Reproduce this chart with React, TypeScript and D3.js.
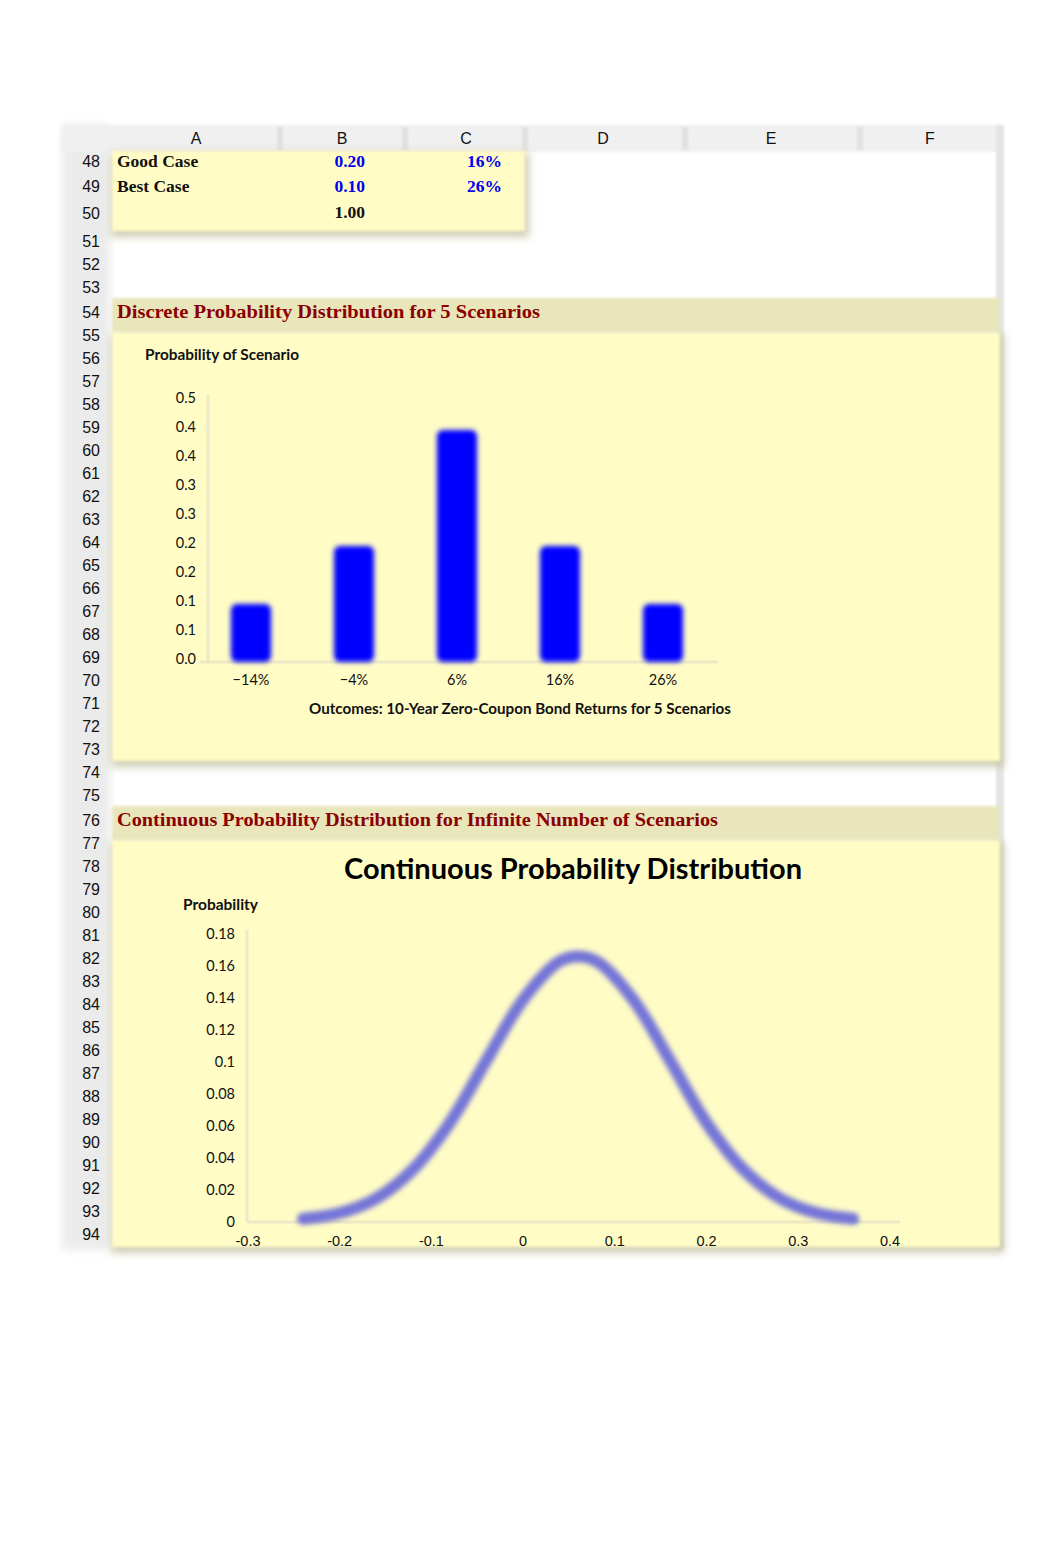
import * as d3 from 'd3'

// spreadsheet context
const columnLetters = ['A', 'B', 'C', 'D', 'E', 'F']
const columnCenters = [196, 342, 466, 603, 771, 930]
const rowNumbers = d3.range(48, 95)
const tallRows: Record<number, number> = { 49: 25, 50: 27, 51: 28, 54: 25, 76: 25 }

const caseLabels = ['Good Case', 'Best Case']
const caseProbs = ['0.20', '0.10']
const caseReturns = ['16%', '26%']
const probTotal = '1.00'

// discrete chart
const scenarios = ['\u221214%', '\u22124%', '6%', '16%', '26%']
const scenarioProbs = [0.1, 0.2, 0.4, 0.2, 0.1]
const discreteTicks = [0, 0.05, 0.1, 0.15, 0.2, 0.25, 0.3, 0.35, 0.4, 0.45]
const discreteTickLabels = ['0.0', '0.1', '0.1', '0.2', '0.2', '0.3', '0.3', '0.4', '0.4', '0.5']

// continuous chart
const curveX = [-0.24, -0.2, -0.16, -0.12, -0.08, -0.04, 0, 0.04, 0.06, 0.08, 0.12, 0.16, 0.2, 0.24, 0.28, 0.32, 0.36]
const curveY = [0.002, 0.0056, 0.0148, 0.033, 0.062, 0.101, 0.139, 0.163, 0.166, 0.163, 0.139, 0.101, 0.062, 0.033, 0.0148, 0.0056, 0.002]
const contYTicks = [0, 0.02, 0.04, 0.06, 0.08, 0.1, 0.12, 0.14, 0.16, 0.18]
const contXTicks = [-0.3, -0.2, -0.1, 0, 0.1, 0.2, 0.3, 0.4]

const YELLOW = '#fffcc6'
const BAND = '#e8e6ba'
const DARK_RED = '#8b0000'
const SERIF = '"Liberation Serif", serif'
const SANS = 'Lato, "Open Sans", sans-serif'
const ARIAL = '"Liberation Sans", Arial, sans-serif'

// excel style: plain hyphen, no trailing zeros
const fmt = (v: number) => String(+v.toFixed(2))

function rowCenter(n: number) {
  let y = 161
  for (let r = 49; r <= n; r++) y += tallRows[r] ?? 23
  return y
}

function Panel({ x, y, w, h, fill }: { x: number; y: number; w: number; h: number; fill: string }) {
  return (
    <g>
      <rect x={x - 1} y={y + 2} width={w + 5} height={h + 4} fill="#bdbb98" opacity={0.75} filter="url(#shadow)" />
      <rect x={x} y={y} width={w} height={h} fill={fill} filter="url(#soft)" />
    </g>
  )
}

export default function App() {
  const W = 1062
  const H = 1556

  // discrete scales
  const xBand = d3.scaleBand<string>().domain(scenarios).range([199.5, 714.5]).paddingInner(0.61).paddingOuter(0.305)
  const yDisc = d3.scaleLinear().domain([0, 0.45]).range([662, 401])

  // continuous scales
  const xCont = d3.scaleLinear().domain([-0.3, 0.4]).range([248, 890])
  const yCont = d3.scaleLinear().domain([0, 0.18]).range([1222, 934])
  const line = d3.line<number>()
    .x((_, i) => xCont(curveX[i]))
    .y(d => yCont(d))
    .curve(d3.curveCatmullRom.alpha(0.5))

  return (
    <svg width={W} height={H} style={{ position: 'absolute', left: 0, top: 0, background: '#fff' }}>
      <defs>
        <filter id="shadow" x="-10%" y="-10%" width="120%" height="120%">
          <feGaussianBlur stdDeviation="4" />
        </filter>
        <filter id="soft" x="-5%" y="-5%" width="110%" height="110%">
          <feGaussianBlur stdDeviation="1.5" />
        </filter>
        <filter id="markBlur" x="-20%" y="-20%" width="140%" height="140%">
          <feGaussianBlur stdDeviation="2.4" />
        </filter>
      </defs>

      {/* gutter and header row */}
      <rect x={62} y={125} width={48} height={1125} fill="#ebebeb" filter="url(#shadow)" />
      <rect x={62} y={125} width={940} height={27} fill="#f0f0f0" filter="url(#soft)" />
      {[280, 405, 525, 685, 860].map(x => (
        <rect key={x} x={x - 3} y={127} width={6} height={23} fill="#e0e0e0" filter="url(#soft)" />
      ))}
      <rect x={996} y={125} width={8} height={1125} fill="#e4e4e4" filter="url(#soft)" />

      {columnLetters.map((c, i) => (
        <text key={c} x={columnCenters[i]} y={138} textAnchor="middle" dominantBaseline="central"
          fontFamily={ARIAL} fontSize={16} fill="#111">{c}</text>
      ))}
      {rowNumbers.map(n => (
        <text key={n} x={100} y={rowCenter(n)} textAnchor="end" dominantBaseline="central"
          fontFamily={ARIAL} fontSize={16} fill="#111">{n}</text>
      ))}

      {/* top table */}
      <Panel x={112} y={151} w={413} h={80} fill={YELLOW} />
      {caseLabels.map((label, i) => {
        const y = rowCenter(48 + i)
        return (
          <g key={label} fontFamily={SERIF} fontWeight="bold" fontSize={17.5} dominantBaseline="central">
            <text x={117} y={y} fill="#111">{label}</text>
            <text x={365} y={y} textAnchor="end" fill="#0000ee">{caseProbs[i]}</text>
            <text x={502} y={y} textAnchor="end" fill="#0000ee">{caseReturns[i]}</text>
          </g>
        )
      })}
      <text x={365} y={rowCenter(50) - 1} textAnchor="end" dominantBaseline="central"
        fontFamily={SERIF} fontWeight="bold" fontSize={17.5} fill="#111">{probTotal}</text>

      {/* discrete section */}
      <Panel x={112} y={332} w={888} h={429} fill={YELLOW} />
      <rect x={112} y={298} width={888} height={34} fill={BAND} filter="url(#soft)" />
      <text x={117} y={rowCenter(54)} dominantBaseline="central" fontFamily={SERIF} fontWeight="bold"
        fontSize={18} fill={DARK_RED} textLength={423} lengthAdjust="spacingAndGlyphs">
        Discrete Probability Distribution for 5 Scenarios
      </text>
      <text x={145} y={354} dominantBaseline="central" fontFamily={SANS} fontWeight="bold" fontSize={15}
        fill="#111" textLength={154} lengthAdjust="spacingAndGlyphs">Probability of Scenario</text>

      <line x1={208} x2={208} y1={395} y2={662} stroke="#ece9c4" strokeWidth={3} />
      <line x1={200} x2={718} y1={662} y2={662} stroke="#ece9c4" strokeWidth={3} />
      {discreteTicks.map((t, i) => (
        <text key={i} x={196} y={yDisc(t) - 4} textAnchor="end" dominantBaseline="central"
          fontFamily={SANS} fontSize={14.5} fill="#111">{discreteTickLabels[i]}</text>
      ))}
      <g filter="url(#markBlur)">
        {scenarios.map((s, i) => (
          <rect key={s} x={xBand(s)} y={yDisc(scenarioProbs[i])} width={xBand.bandwidth()}
            height={yDisc(0) - yDisc(scenarioProbs[i])} rx={6} fill="#0000ff" />
        ))}
      </g>
      {scenarios.map(s => (
        <text key={s} x={(xBand(s) ?? 0) + xBand.bandwidth() / 2} y={679} textAnchor="middle"
          dominantBaseline="central" fontFamily={SANS} fontSize={14.5} fill="#111">{s}</text>
      ))}
      <text x={520} y={708} textAnchor="middle" dominantBaseline="central" fontFamily={SANS}
        fontWeight="bold" fontSize={15} fill="#111" textLength={422} lengthAdjust="spacingAndGlyphs">
        Outcomes: 10-Year Zero-Coupon Bond Returns for 5 Scenarios
      </text>

      {/* continuous section */}
      <Panel x={112} y={840} w={888} h={407} fill={YELLOW} />
      <rect x={112} y={806} width={888} height={34} fill={BAND} filter="url(#soft)" />
      <text x={117} y={rowCenter(76)} dominantBaseline="central" fontFamily={SERIF} fontWeight="bold"
        fontSize={18} fill={DARK_RED} textLength={601} lengthAdjust="spacingAndGlyphs">
        Continuous Probability Distribution for Infinite Number of Scenarios
      </text>
      <text x={573} y={867} textAnchor="middle" dominantBaseline="central" fontFamily={SANS}
        fontWeight="bold" fontSize={29} fill="#000" textLength={458} lengthAdjust="spacingAndGlyphs">
        Continuous Probability Distribution
      </text>
      <text x={183} y={904} dominantBaseline="central" fontFamily={SANS} fontWeight="bold" fontSize={15}
        fill="#111" textLength={75} lengthAdjust="spacingAndGlyphs">Probability</text>

      <line x1={247} x2={247} y1={930} y2={1222} stroke="#ece9c4" strokeWidth={3} />
      <line x1={247} x2={900} y1={1222} y2={1222} stroke="#ece9c4" strokeWidth={3} />
      {contYTicks.map(t => (
        <text key={t} x={235} y={yCont(t) - 1} textAnchor="end" dominantBaseline="central"
          fontFamily={SANS} fontSize={14.5} fill="#111">{fmt(t)}</text>
      ))}
      {contXTicks.map(t => (
        <text key={t} x={xCont(t)} y={1241} textAnchor="middle" dominantBaseline="central"
          fontFamily={ARIAL} fontSize={14.5} fill="#111">{fmt(t)}</text>
      ))}
      <path d={line(curveY) ?? ''} fill="none" stroke="#7474d8" strokeWidth={12}
        strokeLinecap="round" strokeLinejoin="round" filter="url(#markBlur)" />
    </svg>
  )
}
